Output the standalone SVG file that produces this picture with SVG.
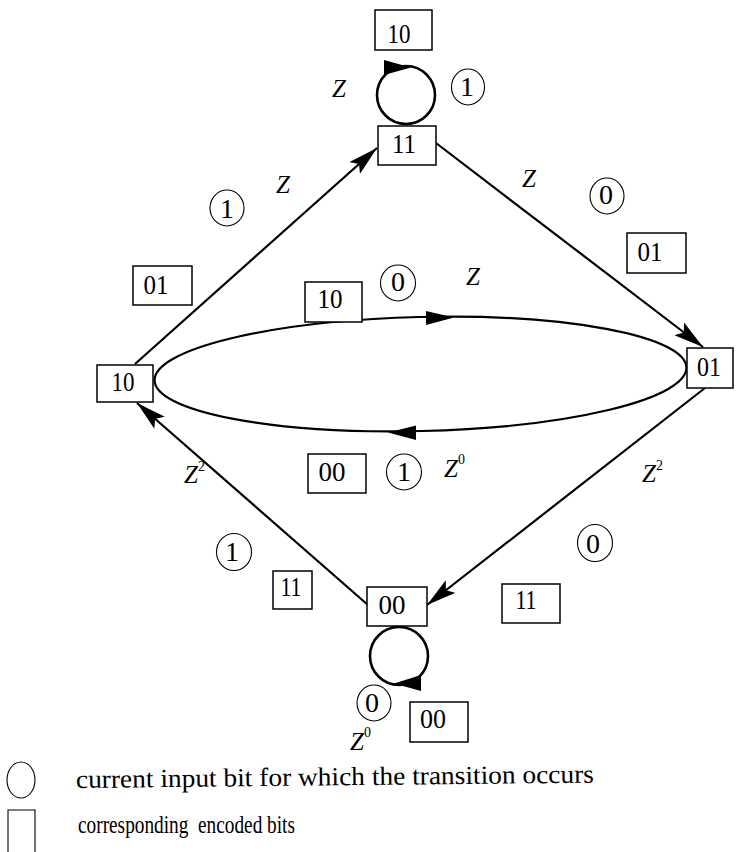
<svg xmlns="http://www.w3.org/2000/svg" width="737" height="852" viewBox="0 0 737 852">
  <style>
    .bg { fill: #ffffff; }
    .box { fill: #ffffff; stroke: #000; stroke-width: 1.5; }
    .bit { fill: none; stroke: #000; stroke-width: 1.1; }
    .loop { fill: none; stroke: #000; stroke-width: 2.6; }
    .edge { fill: none; stroke: #000; stroke-width: 2.2; }
    .head { fill: #000; stroke: none; }
    .num { font-family: "Liberation Serif", "Times New Roman", serif; font-size: 28px; fill: #000; text-anchor: middle; }
    .z { font-family: "Liberation Serif", "Times New Roman", serif; font-size: 25px; font-style: italic; fill: #000; }
    .sup { font-size: 14px; font-style: normal; }
    .legend { font-family: "Liberation Serif", "Times New Roman", serif; font-size: 26px; fill: #000; white-space: pre; }
  </style>
  <defs>
    <marker id="arrow" markerUnits="userSpaceOnUse" markerWidth="32" markerHeight="16" refX="30" refY="8" orient="auto">
      <path d="M0,0 L30,8 L0,16 L6,8 z" fill="#000"/>
    </marker>
  </defs>

  <rect class="bg" x="0" y="0" width="737" height="852"/>

  <!-- transitions between states -->
  <g id="connectors">
    <line class="edge" x1="135" y1="364" x2="377" y2="148" marker-end="url(#arrow)"/>
    <line class="edge" x1="436" y1="143" x2="703" y2="347" marker-end="url(#arrow)"/>
    <line class="edge" x1="705" y1="388" x2="427" y2="605" marker-end="url(#arrow)"/>
    <line class="edge" x1="368" y1="605" x2="137" y2="403" marker-end="url(#arrow)"/>
    <!-- 10 <-> 01 loop drawn as one ellipse with two heads -->
    <ellipse class="edge" cx="420.5" cy="374" rx="266" ry="57" transform="rotate(-1.4 420.5 374)"/>
    <polygon class="head" points="454,317.5 426,311 426,325"/>
    <polygon class="head" points="388,432.5 416,425.5 416,440"/>
    <!-- self loops -->
    <circle class="loop" cx="406" cy="95" r="29"/>
    <polygon class="head" points="384,60 411,67.5 384,75"/>
    <circle class="loop" cx="399" cy="656" r="29"/>
    <polygon class="head" points="421,675 394,683.5 421,691"/>
  </g>

  <!-- state nodes -->
  <g id="state-11">
    <rect class="box" x="378" y="126" width="58" height="39"/>
    <text class="num" x="404" y="153" textLength="24" lengthAdjust="spacingAndGlyphs">11</text>
  </g>
  <g id="state-10">
    <rect class="box" x="97" y="365" width="56" height="37"/>
    <text class="num" x="123" y="391" textLength="23" lengthAdjust="spacingAndGlyphs">10</text>
  </g>
  <g id="state-01">
    <rect class="box" x="687" y="348" width="46" height="40"/>
    <text class="num" x="709" y="376" textLength="24" lengthAdjust="spacingAndGlyphs">01</text>
  </g>
  <g id="state-00">
    <rect class="box" x="367" y="587" width="60" height="39"/>
    <text class="num" x="392" y="614" textLength="27" lengthAdjust="spacingAndGlyphs">00</text>
  </g>

  <!-- self loop on 11 -->
  <g id="label-11-loop">
    <rect class="box" x="375" y="10" width="57" height="40"/>
    <text class="num" x="399" y="43" textLength="23" lengthAdjust="spacingAndGlyphs">10</text>
    <text class="z" x="332" y="97">Z</text>
    <ellipse class="bit" cx="468" cy="87" rx="16.5" ry="18"/>
    <text class="num" x="467" y="96">1</text>
  </g>

  <!-- 10 -> 11 -->
  <g id="label-10-11">
    <text class="z" x="276" y="193">Z</text>
    <ellipse class="bit" cx="227" cy="208" rx="17" ry="18"/>
    <text class="num" x="227" y="218">1</text>
    <rect class="box" x="133" y="266" width="59" height="39"/>
    <text class="num" x="156" y="294" textLength="25" lengthAdjust="spacingAndGlyphs">01</text>
  </g>

  <!-- 11 -> 01 -->
  <g id="label-11-01">
    <text class="z" x="522" y="187">Z</text>
    <ellipse class="bit" cx="607" cy="196" rx="17" ry="18"/>
    <text class="num" x="606" y="204">0</text>
    <rect class="box" x="627" y="233" width="59" height="40"/>
    <text class="num" x="650" y="261" textLength="25" lengthAdjust="spacingAndGlyphs">01</text>
  </g>

  <!-- 10 -> 01 -->
  <g id="label-10-01">
    <rect class="box" x="305" y="282" width="57" height="40"/>
    <text class="num" x="330" y="308" textLength="25" lengthAdjust="spacingAndGlyphs">10</text>
    <ellipse class="bit" cx="398" cy="283" rx="17.5" ry="18"/>
    <text class="num" x="398" y="291">0</text>
    <text class="z" x="466" y="285">Z</text>
  </g>

  <!-- 01 -> 10 -->
  <g id="label-01-10">
    <rect class="box" x="308" y="454" width="58" height="39"/>
    <text class="num" x="332" y="481" textLength="27" lengthAdjust="spacingAndGlyphs">00</text>
    <ellipse class="bit" cx="404" cy="472" rx="17.5" ry="18"/>
    <text class="num" x="404" y="481">1</text>
    <text class="z" x="444" y="477">Z<tspan class="sup" dy="-13">0</tspan></text>
  </g>

  <!-- 01 -> 00 -->
  <g id="label-01-00">
    <text class="z" x="642" y="482">Z<tspan class="sup" dy="-12">2</tspan></text>
    <ellipse class="bit" cx="595" cy="543" rx="17.5" ry="18.5"/>
    <text class="num" x="593" y="553">0</text>
    <rect class="box" x="502" y="584" width="58" height="39"/>
    <text class="num" x="526" y="609" textLength="21" lengthAdjust="spacingAndGlyphs">11</text>
  </g>

  <!-- 00 -> 10 -->
  <g id="label-00-10">
    <text class="z" x="184" y="483">Z<tspan class="sup" dy="-12">2</tspan></text>
    <ellipse class="bit" cx="234" cy="552" rx="17.5" ry="18.5"/>
    <text class="num" x="232" y="561">1</text>
    <rect class="box" x="273" y="571" width="39" height="38"/>
    <text class="num" x="291" y="596" textLength="21" lengthAdjust="spacingAndGlyphs">11</text>
  </g>

  <!-- self loop on 00 -->
  <g id="label-00-loop">
    <ellipse class="bit" cx="374" cy="703" rx="17" ry="18"/>
    <text class="num" x="372" y="712">0</text>
    <text class="z" x="350" y="750">Z<tspan class="sup" dy="-13">0</tspan></text>
    <rect class="box" x="410" y="702" width="58" height="40"/>
    <text class="num" x="433" y="728" textLength="26" lengthAdjust="spacingAndGlyphs">00</text>
  </g>

  <!-- key -->
  <g id="legend">
    <ellipse class="bit" cx="21" cy="780" rx="14" ry="18"/>
    <text class="legend" x="76" y="788" textLength="518" lengthAdjust="spacingAndGlyphs" transform="rotate(-0.6 76 788)">current input bit for which the transition occurs</text>
    <path class="bit" d="M8,852 L8,810 L35,810 L35,852" stroke-width="1.5"/>
    <text class="legend" x="78" y="833" textLength="217" lengthAdjust="spacingAndGlyphs">corresponding  encoded bits</text>
  </g>
</svg>
